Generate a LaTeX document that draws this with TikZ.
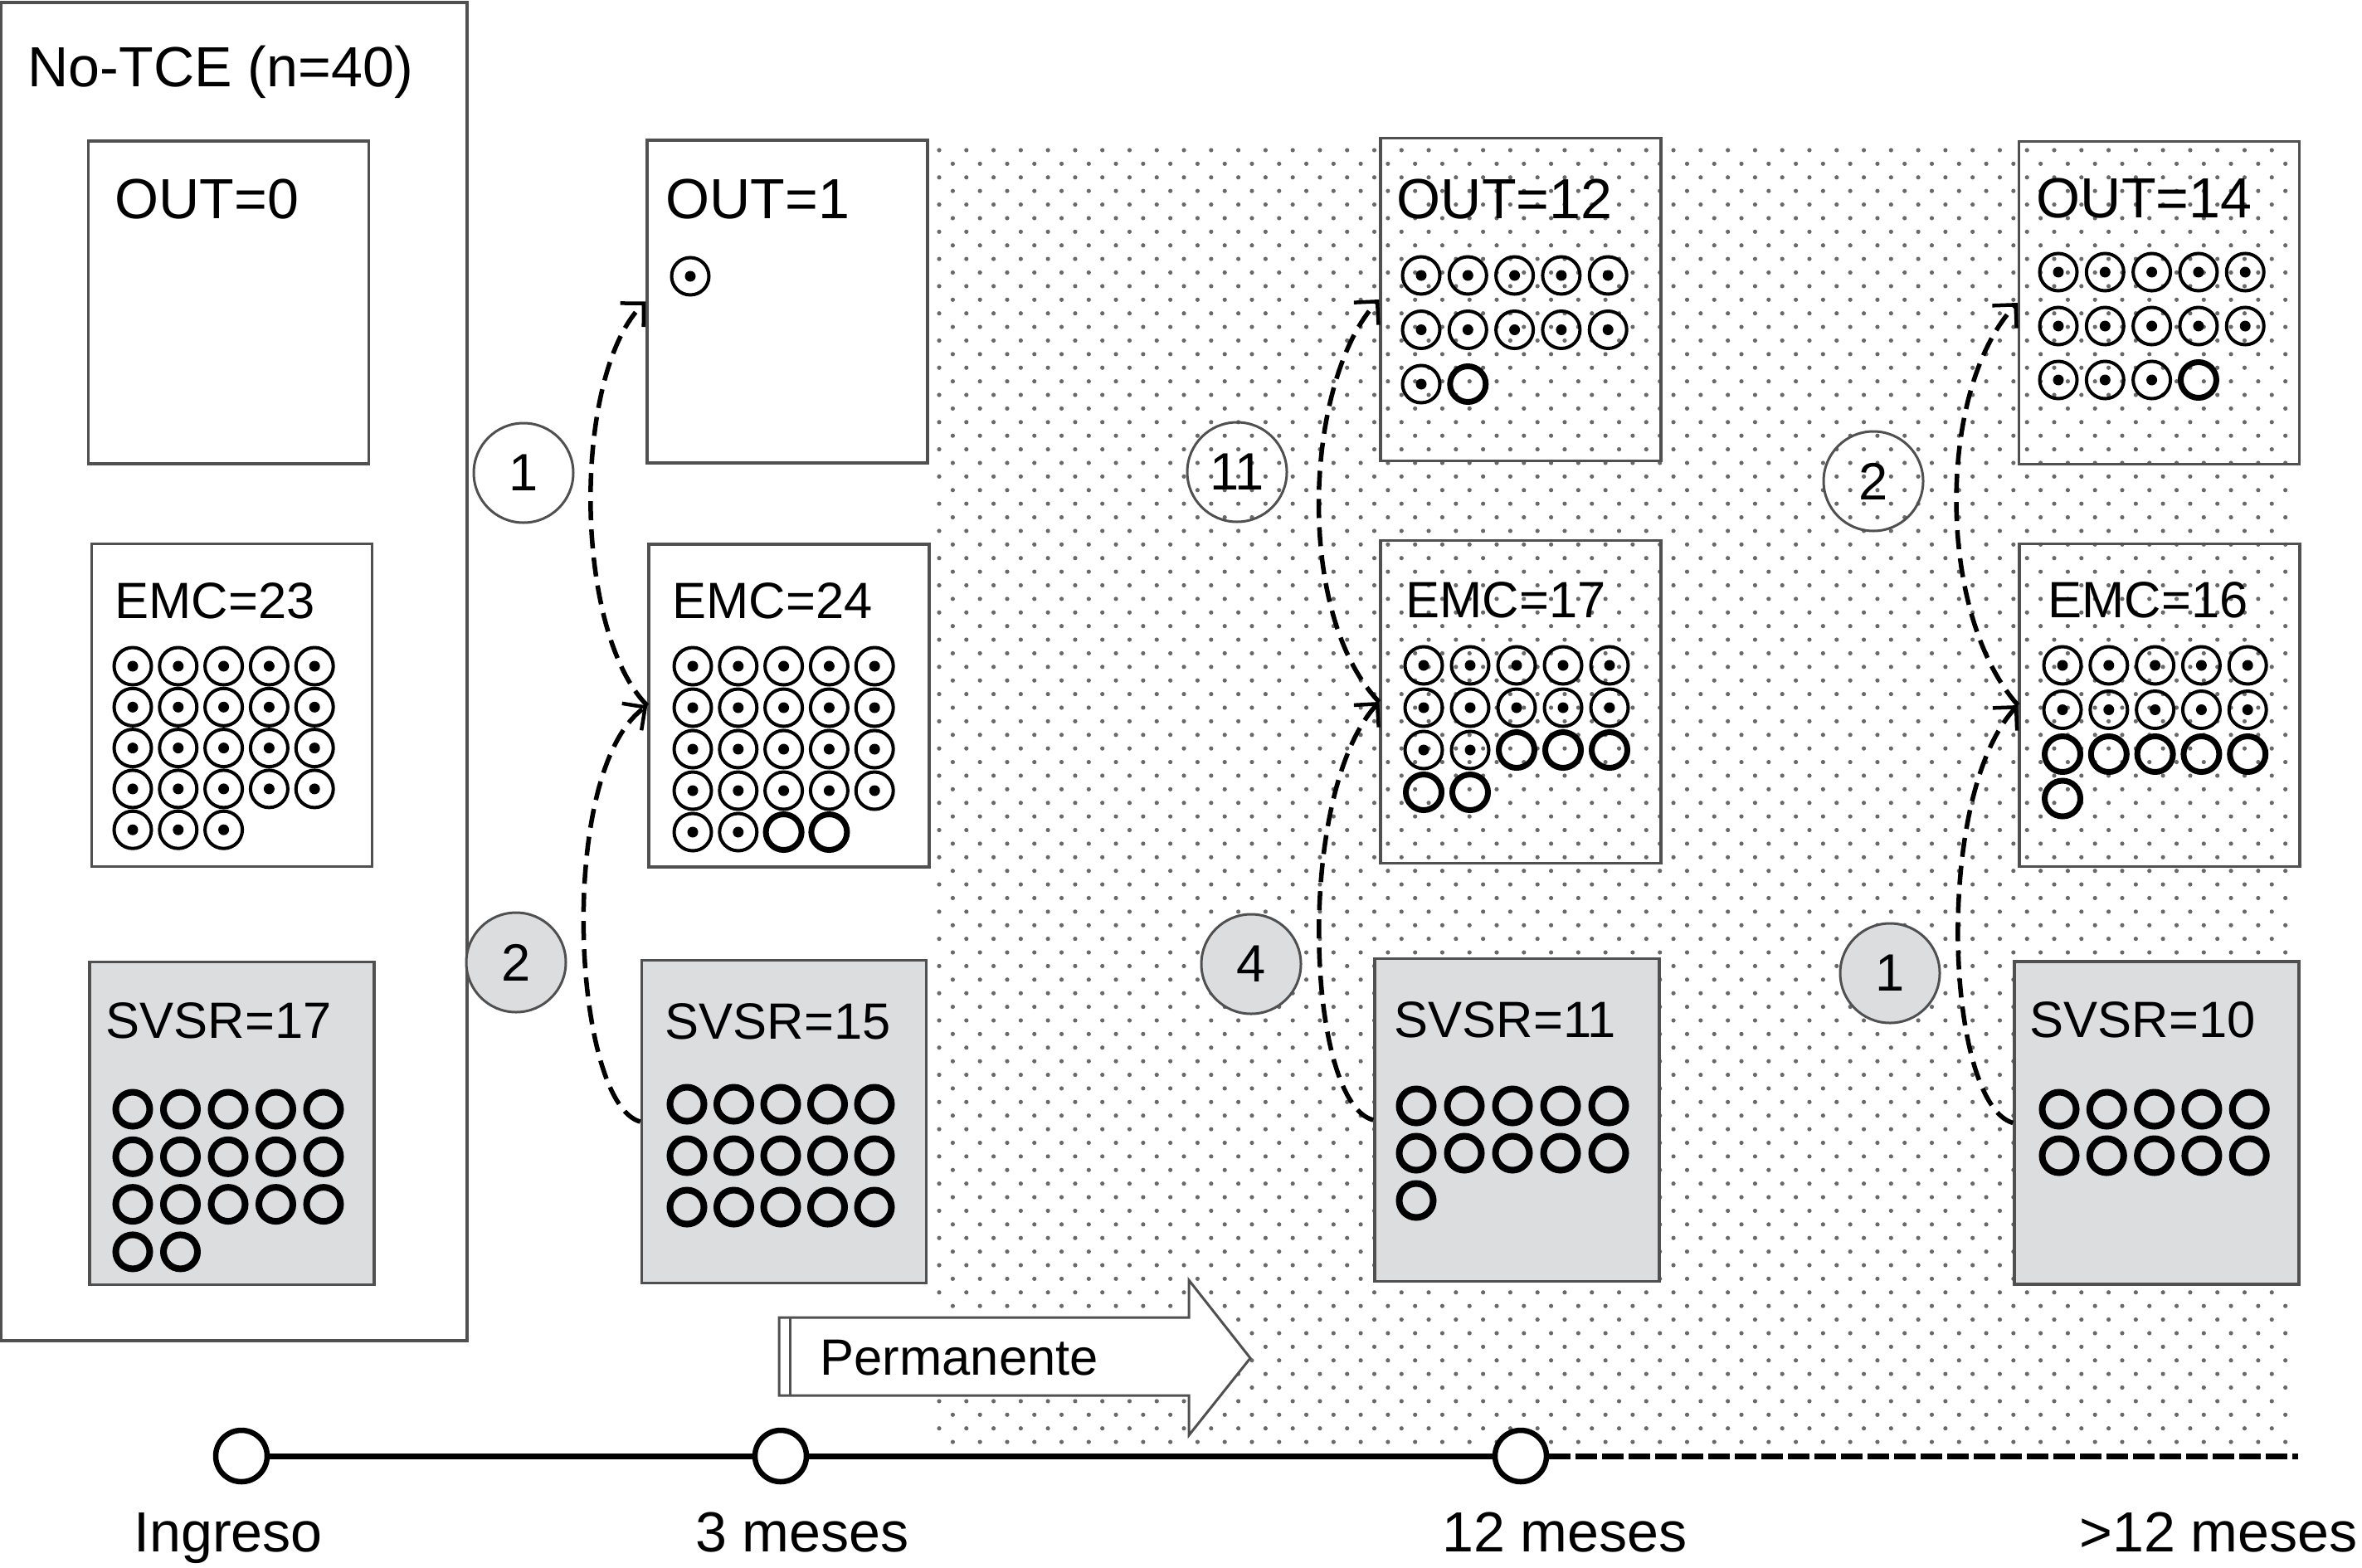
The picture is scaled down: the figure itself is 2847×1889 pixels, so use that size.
\documentclass[tikz,border=0pt]{standalone}
\usepackage{fontspec}
\setmainfont{Liberation Sans}
\usepackage{tikz}
\usetikzlibrary{arrows.meta}
\definecolor{ColBox}{RGB}{80,80,80}
\definecolor{ColFill}{RGB}{220,221,223}
\definecolor{ColDot}{RGB}{105,105,105}
\tikzstyle{BigBox}=[draw=ColBox,line width=0.35mm,inner sep=0pt,minimum width=56.15mm,
minimum height=161.3mm]
\tikzstyle{Box}=[draw=ColBox,line width=0.35mm,inner sep=0pt,minimum width=33.8mm,
minimum height=38.9mm]
\tikzstyle{BoxSv}=[Box,fill=ColFill,minimum width=34.3mm]
\tikzstyle{Lab}=[inner sep=0pt,anchor=base west,font=\fontsize{17.5}{20}\selectfont]
\tikzstyle{LabBig}=[Lab,font=\fontsize{19.4}{22}\selectfont]
\tikzstyle{Num}=[circle,draw=ColBox,line width=0.3mm,minimum size=12mm,inner sep=0pt,
font=\fontsize{18}{20}\selectfont]
\tikzstyle{NumGray}=[Num,fill=ColFill]
\tikzstyle{Flow}=[line width=0.55mm,dash pattern=on 2.3mm off 1.1mm,
-{Straight Barb[length=2mm,width=4mm,line width=0.45mm]}]
\tikzstyle{Tick}=[circle,draw,fill=white,line width=0.65mm,minimum size=6.2mm,inner sep=0pt]
\tikzstyle{Line}=[line width=0.7mm]
\tikzstyle{ThickRing}=[line width=0.7mm]
\tikzstyle{SvRing}=[line width=0.8mm]
\tikzset{DotRing/.pic={\draw[line width=0.4mm] (0,0) circle (22.5);
  \fill (0,0) circle (6.5);}}

\begin{document}
\begin{tikzpicture}[x=0.1mm,y=-0.1mm]
        \useasboundingbox (0,0) rectangle (2847,1889);
        % dotted background
        \foreach \k in {0,...,95}{
          \pgfmathsetmacro\yy{181+16.39*\k}
          \pgfmathsetmacro\xo{mod(\k,2)*16.39}
          \foreach \j in {0,...,49}
            \fill[ColDot] (1132+\xo+32.78*\j,\yy) circle (2.6);
        }
        % boxes
        \node[BigBox](notce)at(282.25,809.5){};
        \node[LabBig](lnotce)at(33,105){No-TCE (n=40)};
        \node[Box](out0)at(275.5,364.5){};
        \node[Box](emc0)at(279.5,850){};
        \node[BoxSv](sv0)at(279.5,1354){};
        \node[Box](out3)at(949,363.5){};
        \node[Box](emc3)at(951,850.5){};
        \node[BoxSv](sv3)at(945,1352){};
        \node[Box](out12)at(1833,361){};
        \node[Box](emc12)at(1833,846){};
        \node[BoxSv](sv12)at(1828.5,1350){};
        \node[Box](outx)at(2602.5,365){};
        \node[Box](emcx)at(2603,850){};
        \node[BoxSv](svx)at(2599.5,1353.5){};
        % labels
        \node[LabBig](lout0)at(138,263){OUT=0};
        \node[Lab](lemc0)at(138,745){EMC=23};
        \node[Lab](lsv0)at(127,1251){SVSR=17};
        \node[LabBig](lout3)at(802,263){OUT=1};
        \node[Lab](lemc3)at(810,745){EMC=24};
        \node[Lab](lsv3)at(801,1252){SVSR=15};
        \node[LabBig](lout12)at(1683,263){OUT=12};
        \node[Lab](lemc12)at(1694,744){EMC=17};
        \node[Lab](lsv12)at(1680,1250){SVSR=11};
        \node[LabBig](loutx)at(2454,262){OUT=14};
        \node[Lab](lemcx)at(2468,744){EMC=16};
        \node[Lab](lsvx)at(2446,1250){SVSR=10};
        % patients: x/y/dx/dy/dotted/total
        \foreach \x/\y/\dx/\dy/\nd/\nt in {160/803/54.8/49.3/23/23,835/803/54.8/50/22/24,
          832/333/0/0/1/1,1713/332/56.3/65.5/11/12,1716/802/56/51/12/17,
          2481/328/56.3/65/13/14,2486/802/55.8/53.5/10/16}{
          \foreach \i in {1,...,\nt}{
            \pgfmathtruncatemacro\c{mod(\i-1,5)}
            \pgfmathtruncatemacro\r{div(\i-1,5)}
            \ifnum\i>\nd
              \draw[ThickRing] (\x+\dx*\c,\y+\dy*\r) circle (21.5);
            \else
              \pic at (\x+\dx*\c,\y+\dy*\r) {DotRing};
            \fi
          }
        }
        \foreach \x/\y/\dx/\dy/\nt in {160/1337/57.5/57.3/17,828/1331/56.5/62/15,
          1707/1333/58/57/11,2482/1337/57.3/56/10}{
          \foreach \i in {1,...,\nt}{
            \pgfmathtruncatemacro\c{mod(\i-1,5)}
            \pgfmathtruncatemacro\r{div(\i-1,5)}
            \draw[SvRing] (\x+\dx*\c,\y+\dy*\r) circle (20.5);
          }
        }
        % transitions
        \draw[Flow](emc3.west) .. controls (690,760) and (690,450) .. (out3.west);
        \draw[Flow](sv3.west) .. controls (690,1330) and (670,930) .. (emc3.west);
        \draw[Flow](emc12.west) .. controls (1560,740) and (1572,460) .. (out12.west);
        \draw[Flow](sv12.west) .. controls (1575,1330) and (1560,960) .. (emc12.west);
        \draw[Flow](emcx.west) .. controls (2334,740) and (2334,470) .. (outx.west);
        \draw[Flow](svx.west) .. controls (2345,1330) and (2330,960) .. (emcx.west);
        \node[Num](n1)at(631,570){1};
        \node[NumGray](n2)at(622,1160){2};
        \node[Num](n11)at(1491,569){11};
        \node[NumGray](n4)at(1508,1162){4};
        \node[Num](n2b)at(2258,580){2};
        \node[NumGray](n1b)at(2278,1173){1};
        % permanente
        \draw[ColBox,fill=white,line width=0.3mm](939,1588)--(1433,1588)--(1433,1543)
          --(1507,1637)--(1433,1730)--(1433,1682)--(939,1682)--cycle;
        \draw[ColBox,line width=0.3mm](952,1588)--(952,1682);
        \node[Lab](perm)at(988,1657){Permanente};
        % timeline
        \node[Tick](ing)at(291,1755){};
        \node[Tick](m3)at(941,1755){};
        \node[Tick](m12)at(1833,1755){};
        \coordinate(tend)at(2770,1755);
        \draw[Line](ing)--(m3)--(m12);
        \draw[Line,dash pattern=on 2.6mm off 0.6mm](m12)--(tend);
        \node[LabBig,anchor=base](ling)at(275,1870){Ingreso};
        \node[LabBig,anchor=base](lm3)at(967,1870){3 meses};
        \node[LabBig,anchor=base](lm12)at(1886,1870){12 meses};
        \node[LabBig,anchor=base](lmx)at(2674,1870){>12 meses};
    \end{tikzpicture}
\end{document}
